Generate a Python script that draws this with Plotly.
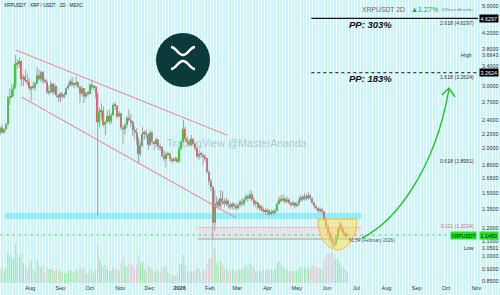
import math
import pandas as pd
import plotly.graph_objects as go

# ---------------- data (2D candles, XRP/USDT) ----------------
first_open = 2.21
close = [2.29,2.22,2.27,2.34,2.78,2.79,2.93,3.00,3.46,3.45,3.52,3.13,3.18,3.10,3.08,2.95,
         2.98,2.97,3.05,3.21,3.13,3.27,3.10,3.08,2.87,2.88,3.04,2.87,2.99,2.82,2.78,
         2.85,2.80,2.83,2.95,3.00,3.09,3.02,3.02,3.07,2.98,2.85,2.95,2.80,2.86,2.85,
         3.02,2.97,2.98,2.86,2.37,2.54,2.56,2.33,2.37,2.47,2.38,2.48,2.65,2.64,2.46,2.51,
         2.29,2.26,2.33,2.44,2.40,2.37,2.25,2.22,2.11,1.93,2.04,2.20,2.22,2.19,2.05,
         2.22,2.09,2.06,2.12,2.03,2.02,1.91,1.87,1.93,1.93,1.87,1.85,1.87,1.86,1.84,
         2.00,2.09,2.27,2.13,2.09,2.05,2.13,2.06,2.00,1.90,1.93,1.92,1.90,1.88,1.72,1.62,
         1.56,1.24,1.40,1.42,1.38,1.45,1.42,1.40,1.43,1.39,1.37,1.40,1.38,1.36,
         1.39,1.42,1.40,1.44,1.47,1.45,1.49,1.44,1.40,1.41,1.37,1.38,1.35,1.34,1.33,
         1.34,1.31,1.33,1.32,1.34,1.40,1.44,1.43,1.45,1.42,1.44,1.41,1.39,1.41,1.38,
         1.40,1.43,1.46,1.44,1.47,1.45,1.48,1.45,1.41,1.38,1.36,1.34,1.35,1.33,1.27,1.21,
         1.16,1.12,1.09,1.08,1.13,1.19,1.22,1.19,1.16,1.14,1.145]
high = [2.30,2.33,2.28,2.36,2.80,2.95,3.03,3.05,3.6643,3.55,3.60,3.53,3.23,3.33,3.24,3.15,
        3.00,3.08,3.08,3.38,3.33,3.30,3.30,3.15,3.12,3.00,3.10,3.05,3.04,3.00,2.85,
        2.88,2.87,2.88,2.97,3.05,3.12,3.18,3.06,3.19,3.09,3.00,3.00,2.95,2.88,2.91,
        3.05,3.10,3.02,3.00,2.87,2.60,2.68,2.62,2.40,2.55,2.58,2.52,2.68,2.70,2.64,2.55,
        2.52,2.33,2.36,2.47,2.58,2.50,2.40,2.31,2.28,2.15,2.08,2.30,2.25,2.26,2.21,
        2.25,2.23,2.10,2.15,2.13,2.07,2.03,1.98,1.96,1.96,1.95,1.89,1.89,1.90,1.89,
        2.02,2.11,2.41,2.30,2.16,2.12,2.18,2.14,2.08,2.02,1.98,1.96,1.94,1.93,1.89,1.74,
        1.65,1.58,1.53,1.47,1.44,1.53,1.52,1.45,1.46,1.44,1.41,1.42,1.41,1.40,
        1.41,1.44,1.45,1.46,1.49,1.49,1.53,1.52,1.46,1.43,1.42,1.40,1.39,1.37,1.36,
        1.36,1.35,1.35,1.35,1.36,1.42,1.47,1.48,1.49,1.46,1.47,1.45,1.42,1.43,1.42,
        1.42,1.44,1.48,1.48,1.50,1.49,1.51,1.49,1.46,1.42,1.39,1.37,1.37,1.36,1.34,1.28,
        1.23,1.18,1.14,1.11,1.15,1.21,1.25,1.24,1.20,1.17,1.16]
low = [2.17,2.20,2.20,2.24,2.33,2.65,2.77,2.80,2.95,3.35,3.37,3.00,2.99,3.05,3.01,2.90,
       2.72,2.92,2.90,3.02,3.10,3.07,3.03,3.05,2.85,2.82,2.85,2.83,2.84,2.78,2.70,
       2.70,2.76,2.77,2.82,2.93,2.98,2.99,2.95,2.97,2.95,2.69,2.80,2.68,2.76,2.80,
       2.83,2.93,2.91,2.77,1.30,2.30,2.42,2.30,2.18,2.36,2.34,2.34,2.48,2.57,2.43,2.45,
       2.25,2.06,2.19,2.28,2.38,2.30,2.17,2.12,2.05,1.82,1.90,2.02,2.12,2.14,1.98,
       2.03,2.05,1.98,2.02,1.98,1.97,1.89,1.84,1.77,1.90,1.84,1.82,1.83,1.84,1.82,
       1.83,1.98,2.08,2.10,2.05,2.03,2.04,2.03,1.97,1.88,1.86,1.88,1.80,1.84,1.70,1.58,
       1.52,1.1154,1.18,1.36,1.35,1.36,1.39,1.37,1.38,1.36,1.35,1.35,1.35,1.34,
       1.35,1.37,1.38,1.38,1.42,1.42,1.44,1.42,1.38,1.37,1.35,1.34,1.33,1.32,1.31,
       1.30,1.30,1.30,1.30,1.31,1.33,1.39,1.41,1.42,1.40,1.41,1.39,1.37,1.38,1.36,
       1.37,1.38,1.42,1.42,1.43,1.43,1.44,1.43,1.40,1.36,1.34,1.32,1.32,1.31,1.25,1.19,
       1.14,1.10,1.06,1.0501,1.07,1.12,1.17,1.17,1.14,1.12,1.13]
volume = [14,16,12,15,30,28,26,24,40,28,26,30,20,16,14,18,
          22,14,12,24,18,16,18,10,16,14,14,15,12,14,12,
          12,10,10,10,12,13,12,10,14,12,18,14,16,10,10,
          14,12,10,14,40,24,18,16,18,14,12,12,16,14,14,12,
          20,26,18,16,20,18,18,14,18,28,20,22,14,12,18,
          16,14,10,12,12,10,16,16,18,10,10,8,8,8,10,
          18,20,28,18,12,10,12,12,12,16,14,10,14,12,20,24,
          26,55,34,20,18,22,18,14,14,12,12,14,12,12,
          14,14,14,16,18,16,20,18,16,12,12,12,12,14,12,
          14,12,14,12,14,20,22,18,16,14,14,12,12,12,12,
          12,14,16,14,16,14,16,14,18,18,16,16,14,14,24,28,
          30,30,32,28,24,24,20,16,16,14,10]

month_ticks = ["2025-07-01","2025-08-01","2025-09-01","2025-10-01","2025-11-01","2025-12-01",
               "2026-01-01","2026-02-01","2026-03-01","2026-04-01","2026-05-01","2026-06-01",
               "2026-07-01","2026-08-01","2026-09-01","2026-10-01","2026-11-01"]
month_labels = ["Jul","Aug","Sep","Oct","Nov","Dec","<b>2026</b>","Feb","Mar","Apr","May","Jun",
                "Jul","Aug","Sep","Oct","Nov"]
price_ticks = [5.0,4.2,3.8,3.4,3.0,2.7,2.4,2.2,2.0,1.8,1.65,1.5,1.35,1.2,1.1,1.0,0.92,0.85]

fib_levels = [(2.618, 4.6297), (1.618, 3.2624), (0.618, 1.8951), (0.111, 1.2024)]
last_price = 1.145
ath = 3.6643
period_low = 1.0501
feb_low = 1.1154

# drawings (date, price)
upper_channel = [("2025-07-17", 3.78), ("2026-02-19", 2.18)]
lower_channel = [("2025-07-23", 2.79), ("2026-02-28", 1.278)]
cyan_zone = [("2025-07-06", 1.27), ("2026-07-06", 1.32)]
gray_zone = [("2026-01-20", 1.1154), ("2026-07-06", 1.2024)]
fib_start = "2026-05-16"

# ---------------- build ----------------
n = min(len(close), len(high), len(low), len(volume))
dates = pd.date_range("2025-07-01", periods=n, freq="2D")
opens = [first_open] + close[:n-1]
UP, DN = "#1fd11f", "#f2566a"

x_start = pd.Timestamp("2025-07-01")
PW, PH = 478.0, 283.0
x_end = x_start + pd.Timedelta(days=PW / 0.976)

def fx(px):
    return px / PW

def fy(py):
    return 1 - py / PH

fig = go.Figure()

# volume
fig.add_trace(go.Bar(
    x=dates[:n], y=volume[:n], yaxis="y2",
    marker=dict(color=["rgba(70,225,70,0.42)" if c >= o else "rgba(225,170,180,0.5)"
                       for o, c in zip(opens, close[:n])], line=dict(width=0)),
    width=2 * 86400000 * 0.62, hoverinfo="skip"))

# wicks
wx, wy = [], []
for d, h, l in zip(dates, high[:n], low[:n]):
    wx += [d, d, None]
    wy += [l, h, None]
fig.add_trace(go.Scatter(x=wx, y=wy, mode="lines", line=dict(color="#9a9a9a", width=0.9),
                         hoverinfo="skip"))

# bodies
bases, sizes, cols = [], [], []
for o, c in zip(opens, close[:n]):
    lo, hi = min(o, c), max(o, c)
    if hi - lo < lo * 0.006:
        hi = lo * 1.006
    bases.append(lo)
    sizes.append(hi - lo)
    cols.append(UP if c >= o else DN)
fig.add_trace(go.Bar(x=dates, y=sizes, base=bases, marker=dict(color=cols, line=dict(width=0)),
                     width=2 * 86400000 * 0.66, hoverinfo="skip"))

shapes = []
# background stripes
stripe_path = ""
px = 0.5
while px < 500:
    stripe_path += f"M{fx(px):.5f},{fy(-2):.5f}V{fy(297):.5f}"
    px += 3
shapes.append(dict(type="path", xref="paper", yref="paper", path=stripe_path,
                   line=dict(color="rgba(255,255,255,0.85)", width=1), layer="below"))

# zones
shapes.append(dict(type="rect", xref="x", yref="y", x0=cyan_zone[0][0], x1=cyan_zone[1][0],
                   y0=cyan_zone[0][1], y1=cyan_zone[1][1], fillcolor="rgba(90,228,245,0.55)",
                   line=dict(width=0), layer="below"))
shapes.append(dict(type="rect", xref="x", yref="y", x0=gray_zone[0][0], x1=gray_zone[1][0],
                   y0=gray_zone[0][1], y1=gray_zone[1][1], fillcolor="rgba(235,215,220,0.55)",
                   line=dict(width=0), layer="below"))
shapes.append(dict(type="line", xref="x", yref="y", x0=gray_zone[0][0], x1=gray_zone[1][0],
                   y0=fib_levels[3][1], y1=fib_levels[3][1], line=dict(color="rgba(240,140,160,0.7)", width=0.8)))
shapes.append(dict(type="line", xref="x", yref="y", x0=gray_zone[0][0], x1=gray_zone[1][0],
                   y0=feb_low, y1=feb_low, line=dict(color="rgba(150,150,150,0.8)", width=1)))

# channel
for ln in (upper_channel, lower_channel):
    shapes.append(dict(type="line", xref="x", yref="y", x0=ln[0][0], y0=ln[0][1],
                       x1=ln[1][0], y1=ln[1][1], line=dict(color="#f08c9c", width=1.1)))

# current price line
shapes.append(dict(type="line", xref="paper", yref="y", x0=0, x1=1, y0=last_price, y1=last_price,
                   line=dict(color="rgba(20,200,20,0.7)", width=0.8, dash="dot")))

# fib lines
shapes.append(dict(type="line", xref="x", yref="y", x0=fib_start, x1=x_end, y0=fib_levels[0][1],
                   y1=fib_levels[0][1], line=dict(color="#111", width=1.2)))
shapes.append(dict(type="line", xref="x", yref="y", x0=fib_start, x1=x_end, y0=fib_levels[1][1],
                   y1=fib_levels[1][1], line=dict(color="#111", width=1, dash="dot")))

# yellow bowl (pixel drawing)
cx, cy, rx, ry = 337.5, 219, 19.5, 31
k = 0.5523
bowl = (f"M{fx(cx-rx)},{fy(cy)} C{fx(cx-rx)},{fy(cy+k*ry)} {fx(cx-k*rx)},{fy(cy+ry)} {fx(cx)},{fy(cy+ry)} "
        f"C{fx(cx+k*rx)},{fy(cy+ry)} {fx(cx+rx)},{fy(cy+k*ry)} {fx(cx+rx)},{fy(cy)} Z")
shapes.append(dict(type="path", xref="paper", yref="paper", path=bowl,
                   fillcolor="rgba(255,222,80,0.5)", line=dict(color="rgba(245,180,50,0.9)", width=1)))

# green arrow
arrow = (f"M{fx(362)},{fy(238)} C{fx(395)},{fy(222)} {fx(435)},{fy(170)} {fx(449)},{fy(89)}")
shapes.append(dict(type="path", xref="paper", yref="paper", path=arrow,
                   line=dict(color="#1ec21e", width=1.4)))
shapes.append(dict(type="path", xref="paper", yref="paper",
                   path=f"M{fx(442)},{fy(95)} L{fx(449)},{fy(88)} L{fx(455)},{fy(97)}",
                   line=dict(color="#1ec21e", width=1.4)))

# XRP logo
shapes.append(dict(type="circle", xref="paper", yref="paper", x0=fx(156), x1=fx(210),
                   y0=fy(87), y1=fy(33), fillcolor="#0b3a3b", line=dict(width=0)))
xrp_top = f"M{fx(171)},{fy(47)} C{fx(176)},{fy(47)} {fx(178)},{fy(55)} {fx(183)},{fy(55)} C{fx(188)},{fy(55)} {fx(190)},{fy(47)} {fx(195)},{fy(47)}"
xrp_bot = f"M{fx(171)},{fy(69)} C{fx(176)},{fy(69)} {fx(178)},{fy(61)} {fx(183)},{fy(61)} C{fx(188)},{fy(61)} {fx(190)},{fy(69)} {fx(195)},{fy(69)}"
for p in (xrp_top, xrp_bot):
    shapes.append(dict(type="path", xref="paper", yref="paper", path=p,
                       line=dict(color="white", width=2.6)))

FONT = "Liberation Sans, Arial, sans-serif"
ann = []
def A(text, x, y, size=5.5, color="#333", xanchor="left", yanchor="middle", xref="paper", yref="paper", **kw):
    ann.append(dict(text=text, x=x, y=y, xref=xref, yref=yref, xanchor=xanchor, yanchor=yanchor,
                    showarrow=False, font=dict(family=FONT, size=size, color=color), **kw))

# header
A("XRPUSDT · XRP / USDT · 2D · MEXC", fx(2), fy(5), size=4.6, color="#222")
A("XRPUSDT 2D", fx(407), fy(9), size=6.8, color="#666", xanchor="right")
A("▲1.27%", fx(409), fy(9), size=7.2, color="#1f9e3a")
A("@MasterAnanda", fx(439), fy(9), size=4.2, color="#888")
# watermark
A("TradingView @MasterAnanda", fx(165), fy(143), size=10.5, color="rgba(150,150,150,0.55)")

# fib texts
for (r, v), dy in zip(fib_levels, [4.5, 4.5, 4, -1]):
    col = "#e0607a" if r < 0.5 else "#333"
    A(f"{r} ({v})", fx(476), math.log10(v), size=5.2, color=col, xanchor="right", yref="y", yshift=-dy)
A("<b><i>PP: 303%</i></b>", fx(347), math.log10(fib_levels[0][1]), size=9.5, color="#111",
  yref="y", yshift=-6.5)
A("<b><i>PP: 183%</i></b>", fx(347), math.log10(fib_levels[1][1]), size=9.5, color="#111",
  yref="y", yshift=-5.5)
A("61.54 (February 2026)", fx(347), math.log10(feb_low), size=4.6, color="#555", yref="y", yshift=-1)

# right axis labels
for v, bg, fg in [(fib_levels[0][1], "black", "white"), (fib_levels[1][1], "black", "white"),
                  (last_price, "#22e622", "#111")]:
    A(f"{v:.4f}", 1, math.log10(v), size=5.4, color=fg, yref="y", xshift=1, bgcolor=bg, borderpad=0.6)
A("XRPUSDT", 1, math.log10(last_price), size=5, color="#111", xanchor="right", yref="y",
  xshift=-1, bgcolor="#22e622", borderpad=0.6)
A(f"{ath:.4f}", 1, math.log10(ath), size=5.4, yref="y", xshift=2)
A("High", fx(474), math.log10(ath), size=5.2, xanchor="right", yref="y")
A(f"{period_low:.4f}", 1, math.log10(period_low), size=5.4, yref="y", xshift=2)
A("Low", fx(476), math.log10(period_low), size=5.2, xanchor="right", yref="y")

CYAN = "#c9f4f8"
ylo, yhi = math.exp((256 - 283) / 155), math.exp(256 / 155)
fig.update_layout(
    width=500, height=295, margin=dict(l=0, r=22, t=0, b=12),
    paper_bgcolor=CYAN, plot_bgcolor=CYAN, showlegend=False, barmode="overlay",
    xaxis=dict(type="date", range=[x_start, x_end], tickvals=month_ticks, ticktext=month_labels,
               tickfont=dict(family=FONT, size=5.5, color="#333"), showgrid=False, zeroline=False,
               ticks="", showline=False, fixedrange=True),
    yaxis=dict(type="log", range=[math.log10(ylo), math.log10(yhi)], side="right",
               tickvals=price_ticks, ticktext=[f"{v:.4f}" for v in price_ticks],
               tickfont=dict(family=FONT, size=5.4, color="#333"), showgrid=False, zeroline=False,
               ticks="", ticklabelstandoff=3),
    yaxis2=dict(overlaying="y", range=[0, PH], visible=False),
    shapes=shapes, annotations=ann,
)
fig.write_html("out.html")
